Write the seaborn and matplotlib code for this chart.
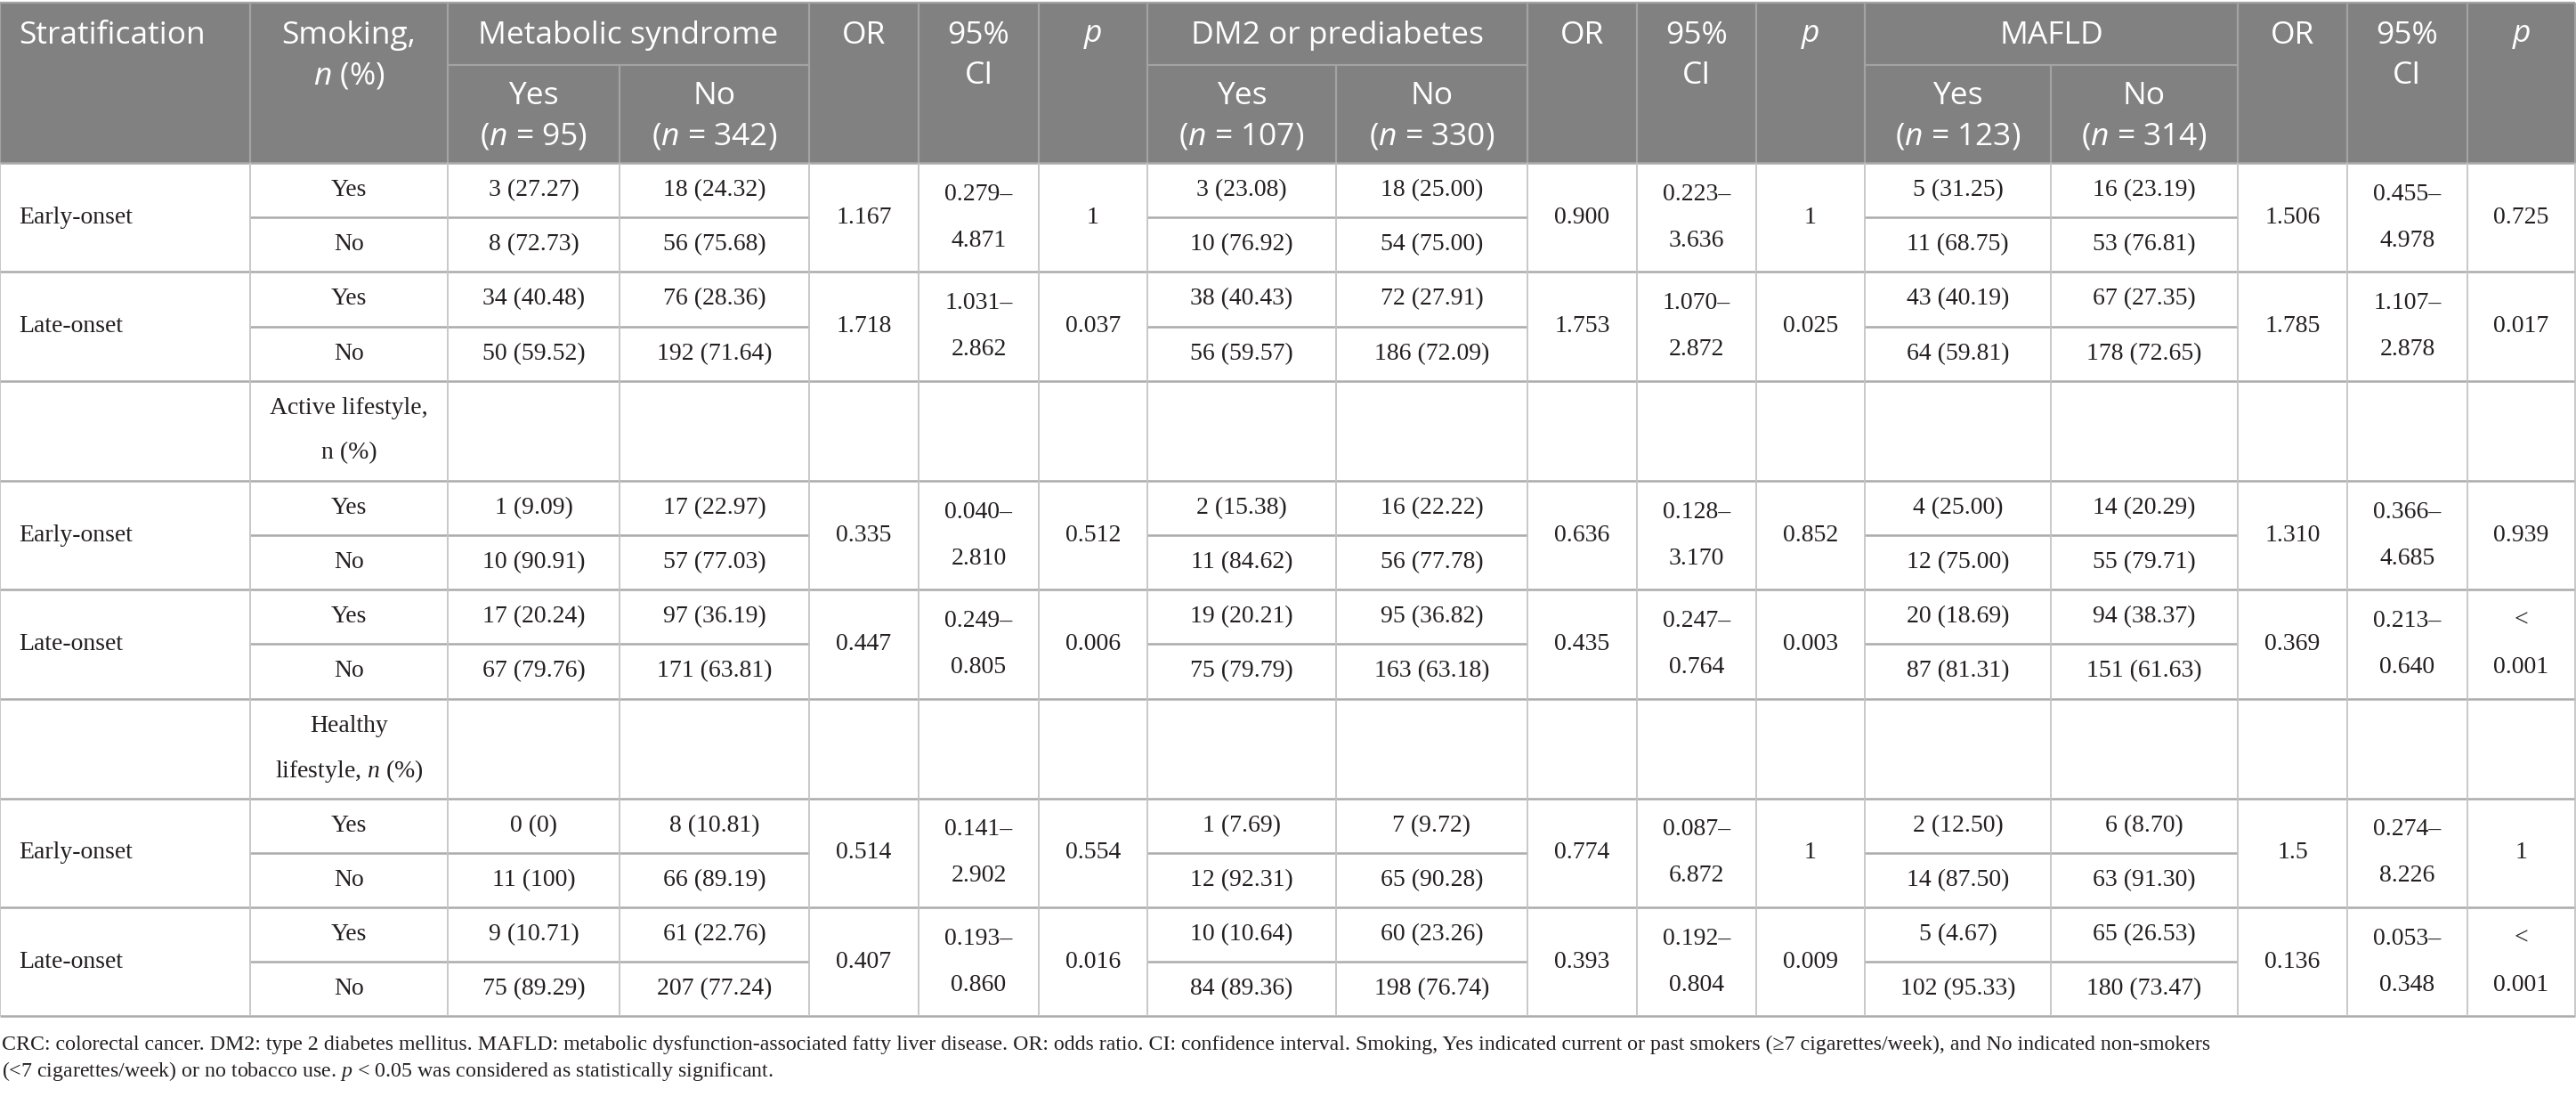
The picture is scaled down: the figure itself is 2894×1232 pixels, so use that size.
import matplotlib
matplotlib.use("Agg")
import matplotlib.pyplot as plt
import seaborn as sns

# ---------------- data ----------------
strata = ["Early-onset", "Late-onset"]
smoking_levels = ["Yes", "No"]
section_labels = [None,
                  ["Active lifestyle,", "n (%)"],
                  ["Healthy", r"lifestyle, $n$ (%)"]]

outcomes = ["Metabolic syndrome", "DM2 or prediabetes", "MAFLD"]
outcome_n_yes = [95, 107, 123]
outcome_n_no = [342, 330, 314]

mets_yes = ["3 (27.27)", "8 (72.73)", "34 (40.48)", "50 (59.52)",
            "1 (9.09)", "10 (90.91)", "17 (20.24)", "67 (79.76)",
            "0 (0)", "11 (100)", "9 (10.71)", "75 (89.29)"]
mets_no = ["18 (24.32)", "56 (75.68)", "76 (28.36)", "192 (71.64)",
           "17 (22.97)", "57 (77.03)", "97 (36.19)", "171 (63.81)",
           "8 (10.81)", "66 (89.19)", "61 (22.76)", "207 (77.24)"]
mets_or = ["1.167", "1.718", "0.335", "0.447", "0.514", "0.407"]
mets_ci_low = ["0.279", "1.031", "0.040", "0.249", "0.141", "0.193"]
mets_ci_high = ["4.871", "2.862", "2.810", "0.805", "2.902", "0.860"]
mets_p = ["1", "0.037", "0.512", "0.006", "0.554", "0.016"]

dm2_yes = ["3 (23.08)", "10 (76.92)", "38 (40.43)", "56 (59.57)",
           "2 (15.38)", "11 (84.62)", "19 (20.21)", "75 (79.79)",
           "1 (7.69)", "12 (92.31)", "10 (10.64)", "84 (89.36)"]
dm2_no = ["18 (25.00)", "54 (75.00)", "72 (27.91)", "186 (72.09)",
          "16 (22.22)", "56 (77.78)", "95 (36.82)", "163 (63.18)",
          "7 (9.72)", "65 (90.28)", "60 (23.26)", "198 (76.74)"]
dm2_or = ["0.900", "1.753", "0.636", "0.435", "0.774", "0.393"]
dm2_ci_low = ["0.223", "1.070", "0.128", "0.247", "0.087", "0.192"]
dm2_ci_high = ["3.636", "2.872", "3.170", "0.764", "6.872", "0.804"]
dm2_p = ["1", "0.025", "0.852", "0.003", "1", "0.009"]

mafld_yes = ["5 (31.25)", "11 (68.75)", "43 (40.19)", "64 (59.81)",
             "4 (25.00)", "12 (75.00)", "20 (18.69)", "87 (81.31)",
             "2 (12.50)", "14 (87.50)", "5 (4.67)", "102 (95.33)"]
mafld_no = ["16 (23.19)", "53 (76.81)", "67 (27.35)", "178 (72.65)",
            "14 (20.29)", "55 (79.71)", "94 (38.37)", "151 (61.63)",
            "6 (8.70)", "63 (91.30)", "65 (26.53)", "180 (73.47)"]
mafld_or = ["1.506", "1.785", "1.310", "0.369", "1.5", "0.136"]
mafld_ci_low = ["0.455", "1.107", "0.366", "0.213", "0.274", "0.053"]
mafld_ci_high = ["4.978", "2.878", "4.685", "0.640", "8.226", "0.348"]
mafld_p = ["0.725", "0.017", "0.939", "< 0.001", "1", "< 0.001"]

footnote = [
    "CRC: colorectal cancer. DM2: type 2 diabetes mellitus. MAFLD: metabolic dysfunction-associated fatty liver disease. "
    "OR: odds ratio. CI: confidence interval. Smoking, Yes indicated current or past smokers (\u22657 cigarettes/week), "
    "and No indicated non-smokers",
    r"(<7 cigarettes/week) or no tobacco use. $p$ < 0.05 was considered as statistically significant.",
]

# ---------------- layout ----------------
W, H = 2894, 1232
col_edges = [0, 281, 503, 696, 909, 1032, 1167, 1289, 1501, 1716, 1839,
             1973, 2095, 2304, 2514, 2637, 2772, 2893]
header_top, header_mid, header_bot = 3, 73, 183
half_row = 61.2
section_h = 112

sns.set_theme(style="white")
plt.rcParams["mathtext.fontset"] = "custom"
plt.rcParams["mathtext.it"] = "Liberation Serif:italic"
plt.rcParams["mathtext.rm"] = "Liberation Serif"
plt.rcParams["mathtext.sf"] = "Open Sans:italic"

HEAD_FONT = "Open Sans"
BODY_FONT = "Liberation Serif"
HEAD_SIZE = 25.5
BODY_SIZE = 20
FOOT_SIZE = 17.2
HEAD_BG = "#808180"
HEAD_FG = "#ffffff"
HEAD_LINE = "#a3a3a3"
BODY_LINE = "#c4c4c4"
GROUP_LINE = "#ababab"
TXT = "#231f20"

fig = plt.figure(figsize=(W / 100, H / 100), dpi=100)
ax = fig.add_axes([0, 0, 1, 1])
ax.set_xlim(0, W)
ax.set_ylim(H, 0)
ax.axis("off")

def cx(i, j=None):
    j = i if j is None else j
    return (col_edges[i] + col_edges[j + 1]) / 2

def htext(x, y, s, ha="center"):
    ax.text(x, y, s, ha=ha, va="center", fontsize=HEAD_SIZE, family=HEAD_FONT,
            color=HEAD_FG, fontweight="normal")

def btext(x, y, s, ha="center", size=BODY_SIZE):
    ax.text(x, y, s, ha=ha, va="center", fontsize=size, family=BODY_FONT, color=TXT)

# ---------------- header ----------------
ax.fill_between([col_edges[0], col_edges[-1]], header_top, header_bot,
                color=HEAD_BG, lw=0, zorder=0)
ax.hlines(header_top, col_edges[0], col_edges[-1], color=HEAD_LINE, lw=1.6)
line1, line2 = 40, 85
sub1, sub2 = 108, 153
htext(21, line1, "Stratification", ha="left")
htext(cx(1), line1, "Smoking,")
htext(cx(1), line2, r"$\mathsf{n}$ (%)")
for k, name in enumerate(outcomes):
    c0 = 2 + 5 * k
    htext(cx(c0, c0 + 1), line1, name)
    htext(cx(c0), sub1, "Yes")
    htext(cx(c0), sub2, r"($\mathsf{n}$ = %d)" % outcome_n_yes[k])
    htext(cx(c0 + 1), sub1, "No")
    htext(cx(c0 + 1), sub2, r"($\mathsf{n}$ = %d)" % outcome_n_no[k])
    htext(cx(c0 + 2), line1, "OR")
    htext(cx(c0 + 3), line1, "95%")
    htext(cx(c0 + 3), line2, "CI")
    htext(cx(c0 + 4), line1, r"$\mathsf{p}$")
    # header grid
    ax.hlines(header_mid, col_edges[c0], col_edges[c0 + 2], color=HEAD_LINE, lw=1.6)
    ax.vlines(col_edges[c0 + 1], header_mid, header_bot, color=HEAD_LINE, lw=1.6)
for i, e in enumerate(col_edges):
    if i in (3, 8, 13):
        continue
    ax.vlines(e, header_top, header_bot, color=HEAD_LINE, lw=1.6)

# ---------------- body ----------------
yes_cols = [mets_yes, dm2_yes, mafld_yes]
no_cols = [mets_no, dm2_no, mafld_no]
or_cols = [mets_or, dm2_or, mafld_or]
lo_cols = [mets_ci_low, dm2_ci_low, mafld_ci_low]
hi_cols = [mets_ci_high, dm2_ci_high, mafld_ci_high]
p_cols = [mets_p, dm2_p, mafld_p]

y = header_bot
row_lines = [y]
g = 0
for s, sec in enumerate(section_labels):
    if sec is not None:
        yc = y + section_h / 2
        btext(cx(1), yc - 25, sec[0])
        btext(cx(1), yc + 25, sec[1])
        y += section_h
        row_lines.append(y)
    for st in strata:
        top = y
        mid = y + half_row
        bot = y + 2 * half_row
        gc = (top + bot) / 2
        btext(21, gc, st, ha="left")
        for r, lev in enumerate(smoking_levels):
            rc = top + half_row * (r + 0.5)
            btext(cx(1), rc, lev)
            for k in range(3):
                c0 = 2 + 5 * k
                btext(cx(c0), rc, yes_cols[k][2 * g + r])
                btext(cx(c0 + 1), rc, no_cols[k][2 * g + r])
        for k in range(3):
            c0 = 2 + 5 * k
            btext(cx(c0 + 2), gc, or_cols[k][g])
            btext(cx(c0 + 3), gc - 26, lo_cols[k][g] + "\u2013")
            btext(cx(c0 + 3), gc + 26, hi_cols[k][g])
            pv = p_cols[k][g]
            if pv.startswith("<"):
                btext(cx(c0 + 4), gc - 26, "<")
                btext(cx(c0 + 4), gc + 26, pv[1:].strip())
            else:
                btext(cx(c0 + 4), gc, pv)
            ax.hlines(mid, col_edges[c0], col_edges[c0 + 2], color=GROUP_LINE, lw=1.8)
        ax.hlines(mid, col_edges[1], col_edges[2], color=GROUP_LINE, lw=1.8)
        y = bot
        row_lines.append(y)
        g += 1

for yy in row_lines:
    ax.hlines(yy, col_edges[0], col_edges[-1], color=GROUP_LINE, lw=1.8)
ax.vlines(col_edges, header_bot, row_lines[-1], color=BODY_LINE, lw=1.3)

# ---------------- footnote ----------------
ax.text(2, row_lines[-1] + 32, footnote[0], ha="left", va="center",
        fontsize=FOOT_SIZE, family=BODY_FONT, color=TXT)
ax.text(2, row_lines[-1] + 62, footnote[1], ha="left", va="center",
        fontsize=FOOT_SIZE, family=BODY_FONT, color=TXT)

fig.savefig("out.png", dpi=100, facecolor="white")
